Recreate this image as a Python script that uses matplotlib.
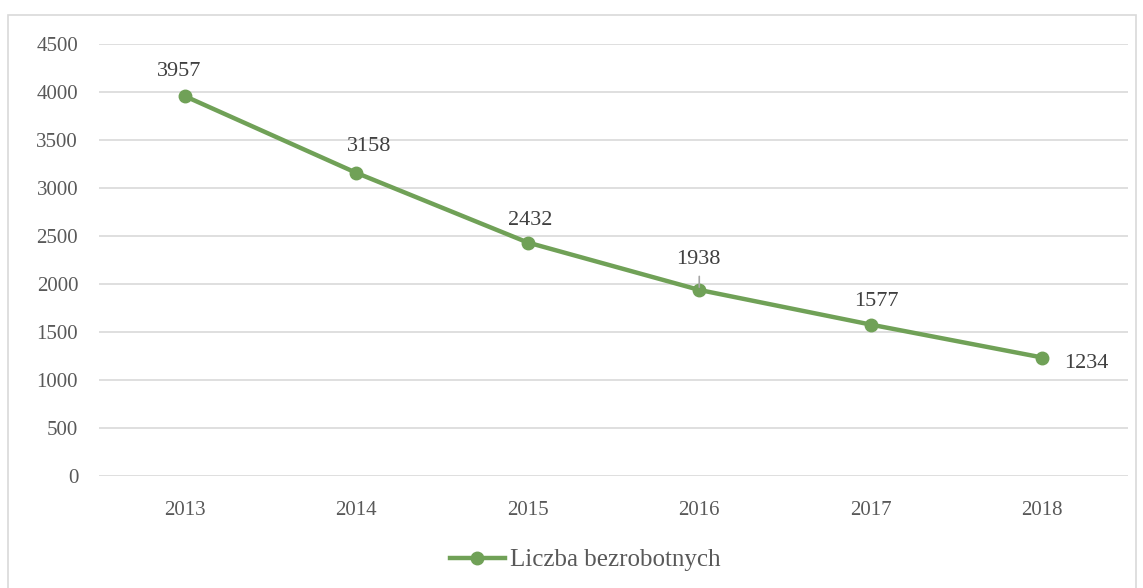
import numpy as np
import matplotlib
matplotlib.use("Agg")
import matplotlib.pyplot as plt
from matplotlib.patches import Rectangle

# data
years = ["2013", "2014", "2015", "2016", "2017", "2018"]
unemployed = [3957, 3158, 2432, 1938, 1577, 1234]
y_ticks = [0, 500, 1000, 1500, 2000, 2500, 3000, 3500, 4000, 4500]
series_name = "Liczba bezrobotnych"

GREEN = "#70A157"
GRID = "#D9D9D9"
TEXT = "#595959"
LABEL = "#404040"

plt.rcParams.update({
    "font.family": ["Liberation Serif", "DejaVu Serif"],
})

fig = plt.figure(figsize=(11.43, 5.88), dpi=100)
fig.patches.append(Rectangle((8 / 1143, -0.01), 1128 / 1143, 1 - 15 / 588 + 0.01,
                             transform=fig.transFigure, fill=False,
                             edgecolor=GRID, linewidth=1.2))

ax = fig.add_axes([0.0866, 0.1905, 0.9003, 0.7347])
x = np.arange(len(years)) + 0.5
line, = ax.plot(x, unemployed, "-o", color=GREEN, linewidth=3.2,
                markersize=9, label=series_name)

ax.set_xlim(0, len(years))
ax.set_ylim(0, 4500)
ax.set_yticks(y_ticks)
ax.set_xticks(x)
ax.set_xticklabels(years)
ax.grid(axis="y", color=GRID, linewidth=1.2)
ax.set_axisbelow(True)
for s in ax.spines.values():
    s.set_visible(False)
ax.tick_params(length=0, labelsize=15, colors=TEXT)
ax.tick_params(axis="x", pad=18)
ax.tick_params(axis="y", pad=15)

# data labels (offsets in points)
offsets = [(-4, 11), (9, 12), (2, 9), (-1, 15), (4, 10)]
for xi, yi, off in zip(x[:-1], unemployed[:-1], offsets):
    ax.annotate(f"{yi}", (xi, yi), xytext=off, textcoords="offset points",
                ha="center", va="bottom", fontsize=16, color=LABEL)
ax.annotate(f"{unemployed[-1]}", (x[-1], unemployed[-1]), xytext=(16, -4),
            textcoords="offset points", ha="left", va="center",
            fontsize=16, color=LABEL)
# leader line for 2016
ax.annotate("", (x[3], unemployed[3]), xytext=(x[3], unemployed[3] + 170),
            arrowprops=dict(arrowstyle="-", color="#A6A6A6", linewidth=1.2))

fig.legend(handles=[line], loc="center", bbox_to_anchor=(0.512, 1 - 560 / 588),
           frameon=False, fontsize=18, handlelength=2.2, handletextpad=0.2,
           labelcolor=TEXT)

fig.savefig("out.png", dpi=100)
